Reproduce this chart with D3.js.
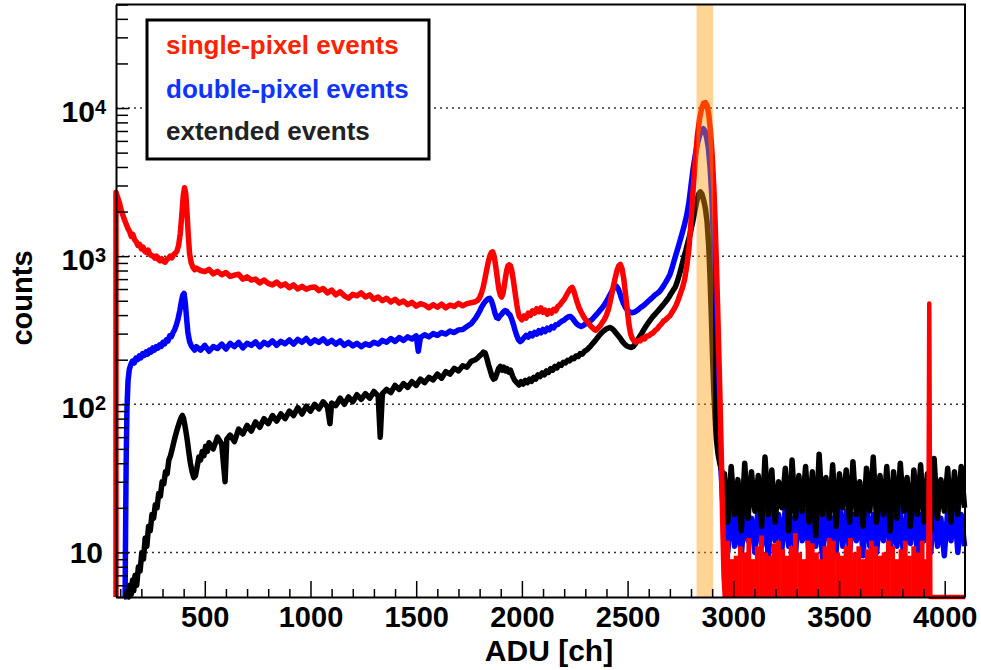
<!DOCTYPE html>
<html>
<head>
<meta charset="utf-8">
<script src="https://cdn.jsdelivr.net/npm/d3@7"></script>
<style>
  html, body { margin: 0; padding: 0; background: #fff; }
  svg { display: block; font-family: "Liberation Sans", Arial, Helvetica, sans-serif; font-weight: bold; }
</style>
</head>
<body>
<svg id="chart" width="981" height="670"></svg>
<script>
// ---- data: [ADU channel, counts] ----
const singlePixel = [
  [80,0],[80,2700],[88,2480],[96,2300],[104,2050],[112,1900],[120,1760],[128,1650],[136,1540],[144,1470],
  [152,1360],[160,1400],[168,1290],[176,1250],[184,1180],[192,1200],[200,1120],[208,1150],[216,1080],[224,1060],
  [232,1100],[240,1030],[248,1010],[256,1000],[264,970],[272,1000],[280,950],[288,930],[296,960],[304,925],
  [312,910],[320,950],[328,965],[336,1000],[344,975],[352,1020],[360,1045],[368,1080],[376,1180],[384,1420],
  [392,1950],[398,2550],[404,2900],[410,2650],[416,1950],[422,1380],[428,1040],[436,900],[444,840],[452,810],
  [460,830],[480,800],[500,785],[520,815],[540,760],[560,790],[580,750],[600,775],[620,730],[640,745],
  [660,755],[680,700],[700,725],[720,690],[740,700],[760,660],[780,690],[800,655],[820,640],[840,668],
  [860,630],[880,650],[900,612],[920,640],[940,600],[960,625],[980,598],[1000,615],[1020,620],[1040,585],
  [1060,605],[1080,565],[1100,590],[1120,548],[1140,575],[1160,540],[1180,520],[1200,552],[1220,540],[1240,565],
  [1260,530],[1280,548],[1300,512],[1320,530],[1340,500],[1360,520],[1380,490],[1400,512],[1420,482],[1440,498],
  [1460,470],[1480,488],[1500,460],[1520,478],[1540,468],[1560,448],[1580,470],[1600,452],[1620,474],[1640,448],
  [1660,468],[1680,458],[1700,480],[1720,462],[1740,478],[1760,485],[1780,492],[1792,505],[1800,525],[1808,560],
  [1816,610],[1824,690],[1832,790],[1840,900],[1848,1000],[1856,1060],[1862,1070],[1868,1010],[1874,900],[1880,780],
  [1886,670],[1892,590],[1898,545],[1904,530],[1910,555],[1916,620],[1922,710],[1928,800],[1934,860],[1940,875],
  [1946,860],[1952,800],[1958,710],[1964,620],[1970,540],[1976,470],[1982,420],[1988,390],[1994,380],[2000,372],
  [2010,395],[2020,382],[2030,412],[2040,398],[2050,428],[2060,412],[2070,442],[2080,422],[2090,448],[2100,418],
  [2110,432],[2120,405],[2130,428],[2140,412],[2150,438],[2160,428],[2170,458],[2180,468],[2190,492],[2200,510],
  [2210,542],[2220,575],[2230,605],[2238,615],[2246,580],[2254,530],[2262,485],[2270,450],[2280,420],[2290,395],
  [2300,375],[2310,362],[2320,345],[2330,332],[2340,322],[2350,316],[2360,326],[2370,338],[2380,356],[2390,374],
  [2400,400],[2410,440],[2420,510],[2430,600],[2440,700],[2450,800],[2458,860],[2466,880],[2474,820],[2482,700],
  [2490,560],[2498,440],[2506,350],[2514,300],[2522,278],[2530,268],[2540,263],[2550,270],[2560,268],[2570,280],
  [2580,276],[2590,288],[2600,290],[2610,298],[2620,303],[2630,315],[2640,322],[2650,338],[2660,348],[2670,365],
  [2680,372],[2690,385],[2700,395],[2710,418],[2720,440],[2730,468],[2740,510],[2750,560],[2760,615],[2770,700],
  [2780,860],[2790,1120],[2800,1700],[2810,2800],[2820,4400],[2830,6500],[2840,8400],[2850,9900],[2860,10800],[2868,10900],
  [2876,10400],[2884,9000],[2892,7000],[2900,4800],[2908,2900],[2914,1700],[2920,900],[2926,450],[2932,210],[2938,95],
  [2944,40],[2950,16],[2956,7],[2962,5]
];
// single-pixel tail: every other bin is empty, so only the bin heights are kept
const singleTailStart = 2962;
const singleTailStep = 20;
const singleTail = [
  12, 9, 9.5, 11, 10, 12.5, 9, 11, 13, 10, 9.5, 11.5, 12, 10.5, 9.5, 11, 13.5, 10, 9, 12,
  11.5, 10, 9, 11, 12.5, 12, 10, 9.5, 11, 12.5, 10, 11, 9, 10.5, 12, 11, 9.5, 10, 12, 11,
  9, 10.5, 12, 9.5, 11, 10, 12, 9
];
const singleSpike = [[3922,0],[3927,480],[3932,0],[4096,0]];

const doublePixel = [
  [118,0],[123,0],[125,12],[128,40],[132,95],[137,145],[143,172],[150,185],[158,196],[166,190],
  [174,205],[182,200],[190,212],[198,206],[206,220],[214,214],[222,226],[230,218],[238,232],[246,225],
  [254,240],[262,232],[270,245],[278,240],[286,252],[294,246],[302,262],[310,256],[318,272],[326,268],
  [334,290],[342,286],[350,305],[358,320],[366,345],[374,380],[382,430],[390,500],[396,545],[402,560],
  [408,480],[414,380],[420,305],[428,265],[436,248],[444,240],[452,232],[460,245],[480,232],[500,250],
  [520,228],[540,245],[560,238],[580,255],[600,236],[620,258],[640,245],[660,262],[680,240],[700,258],
  [720,250],[740,264],[760,244],[780,262],[800,252],[820,268],[840,250],[860,266],[880,256],[900,272],
  [920,255],[940,274],[960,262],[980,278],[1000,258],[1020,272],[1040,262],[1060,276],[1080,258],[1100,270],
  [1120,255],[1140,268],[1160,250],[1180,262],[1200,248],[1220,258],[1240,245],[1260,256],[1280,250],[1300,262],
  [1320,255],[1340,270],[1360,262],[1380,278],[1400,266],[1420,282],[1440,270],[1460,285],[1480,276],[1500,290],
  [1510,228],[1520,282],[1540,295],[1560,285],[1580,300],[1600,292],[1620,305],[1640,298],[1660,312],[1680,305],
  [1700,318],[1720,320],[1740,335],[1760,350],[1780,380],[1790,400],[1800,425],[1810,455],[1820,480],[1830,500],
  [1840,515],[1848,520],[1856,500],[1864,460],[1872,415],[1880,385],[1888,380],[1896,395],[1904,405],[1912,420],
  [1920,430],[1928,425],[1936,410],[1944,400],[1952,375],[1960,345],[1968,315],[1976,290],[1984,272],[1992,265],
  [2000,270],[2010,282],[2020,292],[2030,284],[2040,300],[2050,290],[2060,306],[2070,298],[2080,314],[2090,304],
  [2100,320],[2110,310],[2120,326],[2130,318],[2140,334],[2150,328],[2160,344],[2170,345],[2180,356],[2190,365],
  [2200,370],[2210,382],[2220,390],[2230,392],[2240,380],[2250,362],[2260,348],[2270,340],[2280,335],[2290,340],
  [2300,348],[2310,355],[2320,365],[2330,372],[2340,385],[2350,400],[2360,415],[2370,432],[2380,448],[2390,470],
  [2400,495],[2410,525],[2420,560],[2430,595],[2440,620],[2448,625],[2456,600],[2464,560],[2472,515],[2480,480],
  [2490,450],[2500,432],[2510,420],[2520,415],[2530,418],[2540,425],[2550,435],[2560,448],[2570,458],[2580,470],
  [2590,485],[2600,500],[2610,515],[2620,530],[2630,548],[2640,560],[2650,575],[2660,600],[2670,630],[2680,665],
  [2690,705],[2700,750],[2710,830],[2720,930],[2730,1040],[2740,1160],[2750,1300],[2760,1460],[2770,1650],[2780,1900],
  [2790,2300],[2800,3000],[2810,3900],[2820,4800],[2830,5700],[2840,6500],[2850,7050],[2858,7250],[2866,7000],[2874,6300],
  [2882,5400],[2890,4000],[2898,2600],[2904,1500],[2910,800],[2916,400],[2922,200],[2928,110],[2934,65],[2940,40],
  [2946,28],[2950,22]
];

const extended = [
  [128,0],[134,5.5],[140,5],[146,6],[152,5.2],[158,6.5],[164,5.5],[170,7],[178,6],[186,8],
  [194,7.5],[202,10],[210,9],[218,12.5],[226,11],[234,15],[242,14],[250,18],[258,17],[266,21],
  [274,20],[282,25],[290,24],[298,30],[306,29],[314,35],[322,34],[330,42],[338,45],[346,50],
  [354,56],[362,62],[370,68],[378,74],[386,80],[394,84],[400,80],[406,72],[412,64],[418,56],
  [424,48],[432,40],[440,35],[448,32],[456,33],[464,38],[472,44],[480,42],[488,48],[496,45],
  [504,52],[512,48],[520,55],[540,50],[560,60],[580,54],[596,30],[604,58],[620,62],[640,56],
  [660,68],[680,63],[700,72],[720,66],[740,76],[760,70],[780,80],[800,74],[820,84],[840,77],
  [860,86],[880,80],[900,90],[920,84],[940,95],[960,86],[980,97],[1000,90],[1020,100],[1040,93],
  [1060,104],[1080,96],[1092,74],[1100,102],[1120,98],[1140,110],[1160,100],[1180,112],[1200,104],[1220,116],
  [1240,108],[1260,118],[1280,110],[1300,122],[1320,114],[1330,60],[1340,118],[1360,126],[1380,120],[1400,134],
  [1420,126],[1440,138],[1460,130],[1480,142],[1500,134],[1520,148],[1540,140],[1560,152],[1580,146],[1600,160],
  [1620,150],[1640,166],[1660,160],[1680,175],[1700,168],[1720,182],[1740,178],[1760,195],[1780,200],[1790,205],
  [1800,212],[1810,218],[1818,225],[1826,222],[1834,205],[1842,185],[1850,170],[1858,155],[1866,148],[1874,150],
  [1882,162],[1890,175],[1898,180],[1906,170],[1914,178],[1922,168],[1930,174],[1938,165],[1946,170],[1956,155],
  [1966,145],[1976,140],[1986,135],[1996,142],[2006,137],[2016,145],[2026,140],[2036,148],[2046,143],[2056,152],
  [2066,148],[2076,158],[2086,154],[2096,163],[2106,158],[2116,168],[2126,164],[2136,174],[2146,170],[2156,180],
  [2166,176],[2176,186],[2186,183],[2196,192],[2206,190],[2216,198],[2226,196],[2236,205],[2246,203],[2256,212],
  [2266,210],[2276,220],[2286,218],[2296,228],[2306,232],[2316,240],[2326,248],[2336,258],[2346,268],[2356,280],
  [2366,292],[2376,302],[2386,312],[2396,320],[2406,326],[2416,330],[2426,325],[2436,315],[2446,302],[2456,290],
  [2466,278],[2476,265],[2486,255],[2496,248],[2506,244],[2516,242],[2526,245],[2536,255],[2546,270],[2556,285],
  [2566,300],[2576,318],[2586,335],[2596,352],[2606,368],[2616,385],[2626,400],[2636,415],[2646,430],[2656,448],
  [2666,465],[2676,485],[2686,505],[2696,530],[2706,560],[2716,590],[2726,620],[2736,680],[2746,760],[2756,860],
  [2766,980],[2776,1100],[2786,1250],[2796,1420],[2806,1650],[2816,1950],[2826,2300],[2836,2620],[2844,2720],[2852,2620],
  [2860,2380],[2868,2100],[2876,1700],[2884,1150],[2890,720],[2896,400],[2902,210],[2908,120],[2914,80],[2920,58],
  [2928,46],[2936,40],[2944,36],[2950,34]
];

// flat tails above the peak, fine bins that scatter up and down
const tailStart = 2958;
const tailStep = 16;
const doubleTail = [
  19, 10, 22, 11, 18, 9.5, 20, 12, 17, 10, 21, 11, 19, 9, 23, 12, 18, 10.5, 20, 11,
  17, 9.5, 22, 12, 19, 10, 18, 11, 21, 9, 20, 12, 17, 10, 22, 11, 19, 10, 18, 12,
  20, 9.5, 21, 11, 18, 10, 19, 12, 22, 10, 17, 11, 20, 9, 19, 11.5, 21, 10, 18, 12,
  20, 10, 22, 11, 17, 9.5, 19, 12, 21, 10, 18, 11
];
const extendedTail = [
  34, 16, 38, 18, 31, 14, 40, 17, 35, 19, 33, 15, 44, 18, 36, 16, 30, 20, 37, 14,
  42, 17, 33, 19, 38, 16, 35, 13, 46, 18, 32, 17, 39, 15, 34, 20, 36, 16, 41, 18,
  30, 15, 37, 19, 44, 16, 33, 18, 38, 14, 35, 17, 40, 19, 32, 15, 36, 18, 39, 16,
  34, 14, 43, 17, 31, 19, 37, 16, 35, 18, 38, 20
];

const xMajorTicks = [500, 1000, 1500, 2000, 2500, 3000, 3500, 4000];
const yDecades = [10, 100, 1000, 10000];
const yExponents = ['', '2', '3', '4'];
const legendLabels = ['single-pixel events', 'double-pixel events', 'extended events'];
const legendColors = ['#ff2200', '#1034ff', '#222222'];
const peakBand = [2826, 2905];

class SpectrumChart {
  constructor() {
    this.svg = d3.select('#chart');
    this.left = 116;
    this.right = 965;
    this.top = 4.5;
    this.bottom = 597;
    this.x = d3.scaleLinear().domain([80, 4096]).range([this.left, this.right]);
    this.y = d3.scaleLog().domain([5, 50000]).range([this.bottom, this.top]).clamp(true);
    this.render();
  }

  render() {
    this.drawGrid();
    this.drawSeries();
    this.drawBand();
    this.drawAxes();
    this.drawLegend();
  }

  drawGrid() {
    this.svg.append('g')
      .selectAll('line')
      .data(yDecades)
      .enter().append('line')
      .attr('x1', this.left)
      .attr('x2', this.right)
      .attr('y1', d => this.y(d))
      .attr('y2', d => this.y(d))
      .attr('stroke', '#333')
      .attr('stroke-width', 1.5)
      .attr('stroke-dasharray', '2,4');
  }

  drawSeries() {
    const line = d3.line()
      .x(d => this.x(d[0]))
      .y(d => this.y(Math.max(d[1], 5)));
    const tailPairs = vals => vals.map((v, i) => [tailStart + i * tailStep, v]);

    const g = this.svg.append('g')
      .attr('fill', 'none')
      .attr('stroke-width', 5.5)
      .attr('stroke-linejoin', 'round');

    g.append('path')
      .attr('d', line(doublePixel.concat(tailPairs(doubleTail))))
      .attr('stroke', '#0000ff');

    g.append('path')
      .attr('d', line(extended.concat(tailPairs(extendedTail))))
      .attr('stroke', '#000000');

    g.append('path')
      .attr('d', line(singlePixel))
      .attr('stroke', '#ff0000');

    // empty bins alternate with filled ones here, so it reads as a solid block
    const binW = this.x(singleTailStep) - this.x(0);
    this.svg.append('g')
      .selectAll('rect')
      .data(singleTail)
      .enter().append('rect')
      .attr('x', (d, i) => this.x(singleTailStart + i * singleTailStep))
      .attr('width', binW + 0.6)
      .attr('y', d => this.y(d))
      .attr('height', d => this.bottom - this.y(d))
      .attr('fill', '#ff0000');

    g.append('path')
      .attr('d', line(singleSpike))
      .attr('stroke', '#ff0000')
      .attr('stroke-width', 4.5);
  }

  drawBand() {
    this.svg.append('rect')
      .attr('x', this.x(peakBand[0]))
      .attr('width', this.x(peakBand[1]) - this.x(peakBand[0]))
      .attr('y', this.top)
      .attr('height', this.bottom - this.top)
      .attr('fill', '#ff9900')
      .attr('opacity', 0.42);
  }

  drawAxes() {
    const minorX = d3.range(100, 4100, 100).filter(v => v % 500 !== 0);
    const minorY = [];
    [1, 10, 100, 1000, 10000].forEach(dec => {
      for (let k = 2; k <= 9; k++) {
        const v = dec * k;
        if (v >= 5 && v <= 50000) minorY.push(v);
      }
    });

    // bottom axis
    this.svg.append('g')
      .attr('transform', `translate(0,${this.bottom})`)
      .call(d3.axisBottom(this.x).tickValues(minorX).tickSize(-8).tickSizeOuter(0).tickFormat(''))
      .call(g => g.select('.domain').remove());

    const xAxis = this.svg.append('g')
      .attr('transform', `translate(0,${this.bottom})`)
      .call(d3.axisBottom(this.x).tickValues(xMajorTicks).tickSize(-16).tickSizeOuter(0)
        .tickPadding(9).tickFormat(d3.format('d')));
    xAxis.selectAll('.tick text')
      .attr('font-size', 29)
      .attr('font-family', '"Liberation Sans", Arial, sans-serif')
      .attr('font-weight', 'bold')
      .attr('fill', '#000');

    // left axis
    this.svg.append('g')
      .attr('transform', `translate(${this.left},0)`)
      .call(d3.axisLeft(this.y).tickValues(minorY).tickSize(-12).tickSizeOuter(0).tickFormat(''))
      .call(g => g.select('.domain').remove());

    this.svg.append('g')
      .attr('transform', `translate(${this.left},0)`)
      .call(d3.axisLeft(this.y).tickValues(yDecades).tickSize(-13).tickSizeOuter(0).tickFormat(''));

    this.svg.selectAll('.tick line').attr('stroke-width', 1.5);
    this.svg.selectAll('.domain').attr('stroke-width', 2);

    // decade labels, ROOT style 10^n
    const labels = this.svg.append('g')
      .attr('font-weight', 'bold')
      .attr('text-anchor', 'end');
    yDecades.forEach((d, i) => {
      const exp = yExponents[i];
      const t = labels.append('text')
        .attr('x', exp ? 106 : 103)
        .attr('y', this.y(d) + (exp ? 14 : 11))
        .attr('font-size', 30)
        .text('10');
      if (exp) {
        t.append('tspan')
          .attr('dy', -8)
          .attr('font-size', 20)
          .text(exp);
      }
    });

    // frame top and right
    this.svg.append('path')
      .attr('d', `M${this.left},${this.top}H${this.right}V${this.bottom}`)
      .attr('fill', 'none')
      .attr('stroke', '#000')
      .attr('stroke-width', 2);

    // titles
    this.svg.append('text')
      .attr('x', 549)
      .attr('y', 661)
      .attr('text-anchor', 'middle')
      .attr('font-size', 30)
      .text('ADU [ch]');

    this.svg.append('text')
      .attr('transform', 'translate(32,298) rotate(-90)')
      .attr('text-anchor', 'middle')
      .attr('font-size', 29)
      .text('counts');
  }

  drawLegend() {
    const g = this.svg.append('g');
    g.append('rect')
      .attr('x', 147)
      .attr('y', 20)
      .attr('width', 282)
      .attr('height', 139)
      .attr('fill', '#fff')
      .attr('stroke', '#000')
      .attr('stroke-width', 3);

    g.selectAll('text')
      .data(legendLabels)
      .enter().append('text')
      .attr('x', 166)
      .attr('y', (d, i) => [54, 98, 140][i])
      .attr('font-size', 26)
      .attr('fill', (d, i) => legendColors[i])
      .text(d => d);
  }
}

document.addEventListener('DOMContentLoaded', () => {
  window.chart = new SpectrumChart();
});
</script>
</body>
</html>
